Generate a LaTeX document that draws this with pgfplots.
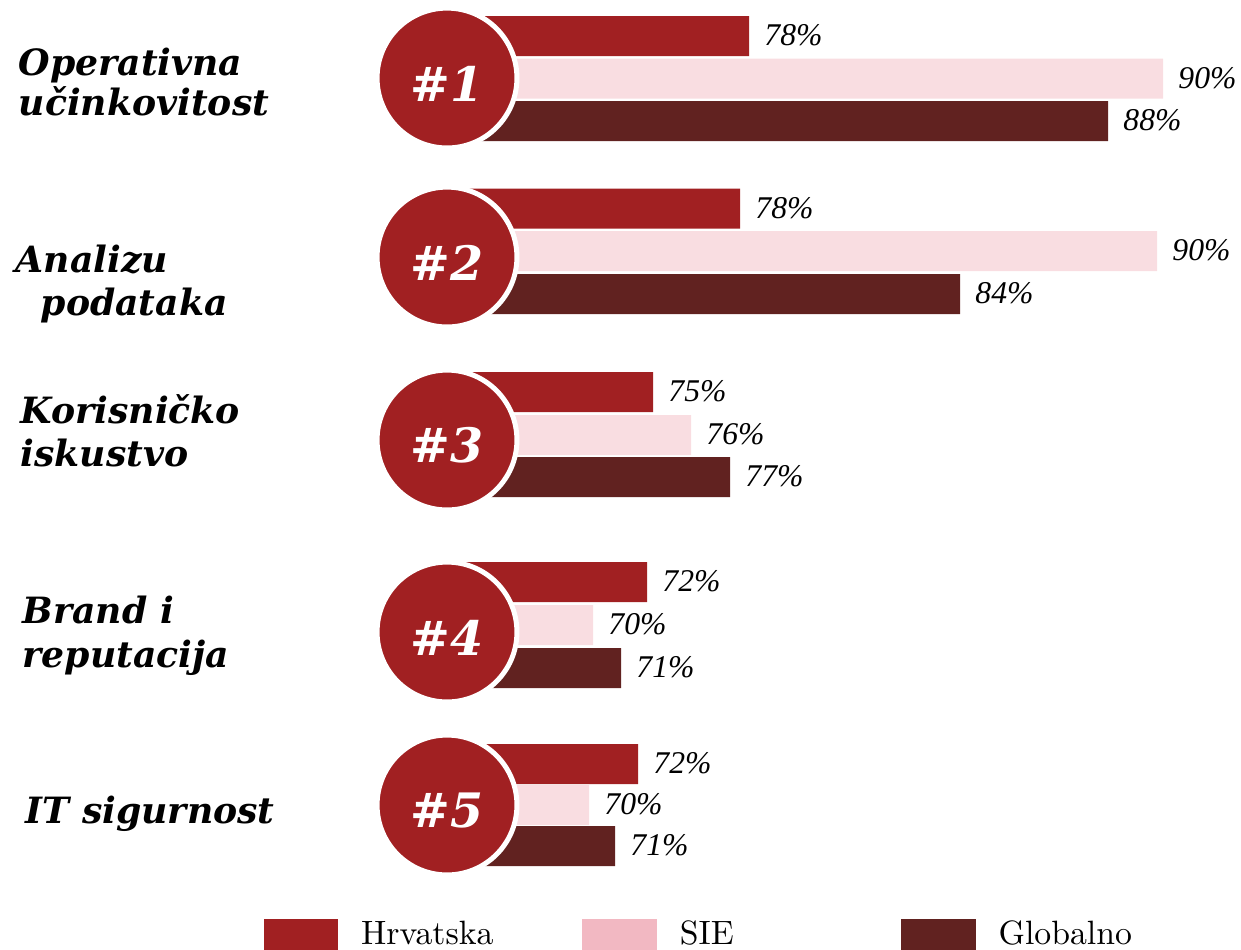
\documentclass[border=0pt]{standalone}
\usepackage{fontspec}
\usepackage{pgfplots}
\usepackage{pgfplotstable}
\pgfplotsset{compat=1.18}

\newfontfamily\labfont{DejaVu Serif}
\newfontfamily\valfont{Liberation Serif}

\definecolor{hrv}{HTML}{A12022}
\definecolor{sie}{HTML}{F9DDE1}
\definecolor{sieleg}{HTML}{F2B8C2}
\definecolor{glob}{HTML}{612220}

% y = bar centre (px from top), len = drawn bar length, pct = label
\pgfplotstableread{
y     len pct
36    302 78
208.5 293 78
392   206 75
582   200 72
764   191 72
}\hrvatska
\pgfplotstableread{
y     len pct
78.5  716 90
251   710 90
435   244 76
625   146 70
805   142 70
}\sie
\pgfplotstableread{
y     len pct
121   661 88
294   513 84
477   283 77
668   174 71
846   168 71
}\globalno
\pgfplotstableread{
x y   n
0 78  1
0 257 2
0 440 3
0 632 4
0 805 5
}\rang

\newcommand{\cat}{\labfont\bfseries\itshape\fontsize{10.3}{12}\selectfont}

\begin{document}
\begin{tikzpicture}
\useasboundingbox (0,0) rectangle (12.41cm,9.5cm);
\begin{axis}[
  width=12.41cm, height=9.5cm, scale only axis,
  xmin=-447, xmax=794, ymin=0, ymax=950, y dir=reverse,
  hide axis, clip=false,
  xbar, bar width=40, bar shift=0pt,
  nodes near coords={\pgfplotspointmeta\%},
  point meta=explicit symbolic,
  every node near coord/.append style={anchor=base west, inner sep=0pt, xshift=4.2pt, yshift=-2.8pt,
    text=black, font=\valfont\itshape\fontsize{9}{10}\selectfont},
  legend columns=3,
  legend image code/.code={\fill[#1] (0pt,-4.3pt) rectangle (20.8pt,4.3pt);},
  legend style={draw=none, fill=none, at={(axis cs:-184,913)}, anchor=north west,
    inner sep=0pt, font=\fontsize{9.6}{11}\selectfont,
    /tikz/every odd column/.append style={column sep=4.5pt},
    /tikz/every even column/.append style={column sep=11pt}},
]
\addplot[fill=hrv, draw=none, forget plot] table[x=len, y=y, meta=pct] {\hrvatska};
\addplot[fill=sie, draw=none, forget plot] table[x=len, y=y, meta=pct] {\sie};
\addplot[fill=glob, draw=none, forget plot] table[x=len, y=y, meta=pct] {\globalno};
\addplot[only marks, mark=*, mark size=19.9pt, forget plot,
  mark options={fill=hrv, draw=white, line width=1.42pt},
  nodes near coords={\#\pgfplotspointmeta},
  every node near coord/.style={anchor=center, yshift=-1.6pt, text=white,
    font=\labfont\bfseries\itshape\fontsize{13.5}{15}\selectfont}]
  table[x=x, y=y, meta=n] {\rang};

\addlegendimage{hrv}
\addlegendentry{\makebox[50pt][l]{Hrvatska}}
\addlegendimage{sieleg}
\addlegendentry{\makebox[50pt][l]{SIE}}
\addlegendimage{glob}
\addlegendentry{\makebox[50pt][l]{Globalno}}

\begin{scope}[every node/.style={anchor=base west, inner sep=0pt, font=\cat}]
\node at (axis cs:-429,75) {Operativna};
\node at (axis cs:-429,115) {učinkovitost};
\node at (axis cs:-432,272) {Analizu};
\node at (axis cs:-407,315) {podataka};
\node at (axis cs:-427,423) {Korisničko};
\node at (axis cs:-427,466) {iskustvo};
\node at (axis cs:-425,623) {Brand i};
\node at (axis cs:-425,667) {reputacija};
\node at (axis cs:-422,823) {IT sigurnost};
\end{scope}
\end{axis}
\end{tikzpicture}
\end{document}
